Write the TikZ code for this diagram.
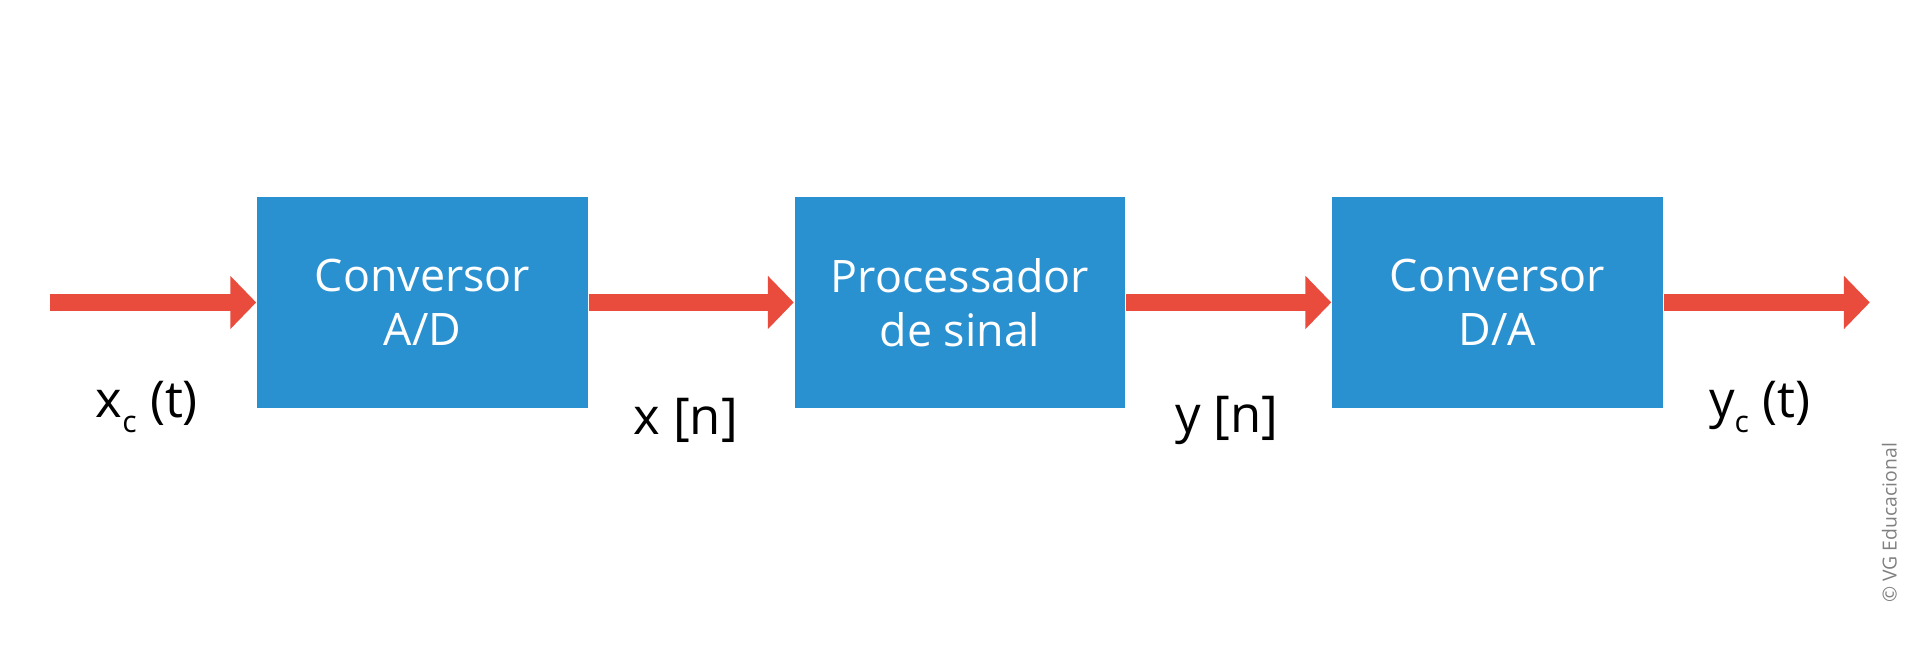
\documentclass[tikz,border=0pt]{standalone}
\usepackage{fontspec}
\setmainfont{Open Sans}
\usetikzlibrary{arrows.meta}
\definecolor{boxblue}{HTML}{2A91D1}
\definecolor{arrowred}{HTML}{E94B3C}
\newcommand{\lowsub}[1]{\raisebox{-0.55ex}{\fontsize{7}{8}\selectfont #1}}
\begin{document}
\begin{tikzpicture}[x=0.01cm, y=-0.01cm,
    block/.style={fill=boxblue, text=white, minimum width=2.7cm, minimum height=1.72cm, align=center, font=\fontsize{10.4}{12.6}\selectfont, inner sep=0pt},
    flow/.style={draw=arrowred, line width=4pt, -{Triangle[width=12pt,length=6pt]}},
    signal/.style={font=\fontsize{11.8}{14}\selectfont}
]
\useasboundingbox (0,0) rectangle (1568,527);

\node[block] (ad) at (345,247) {Conversor\\A/D};
\node[block] (proc) at (784,247) {Processador\\de sinal};
\node[block] (da) at (1223,247) {Conversor\\D/A};

\coordinate (in) at (41,247);
\coordinate (out) at (1527,247);

\draw[flow] (in) -- (ad);
\draw[flow] (ad) -- (proc);
\draw[flow] (proc) -- (da);
\draw[flow] (da) -- (out);

\node[signal] (xc) at (120,332) {x\lowsub{c} (t)};
\node[signal] (xn) at (560,343) {x [n]};
\node[signal] (yn) at (1002,343) {y [n]};
\node[signal] (yc) at (1437,332) {y\lowsub{c} (t)};

\node[rotate=90, text=gray, font=\fontsize{4.5}{5}\selectfont] (credit) at (1543,427) {© VG Educacional};
\end{tikzpicture}
\end{document}
